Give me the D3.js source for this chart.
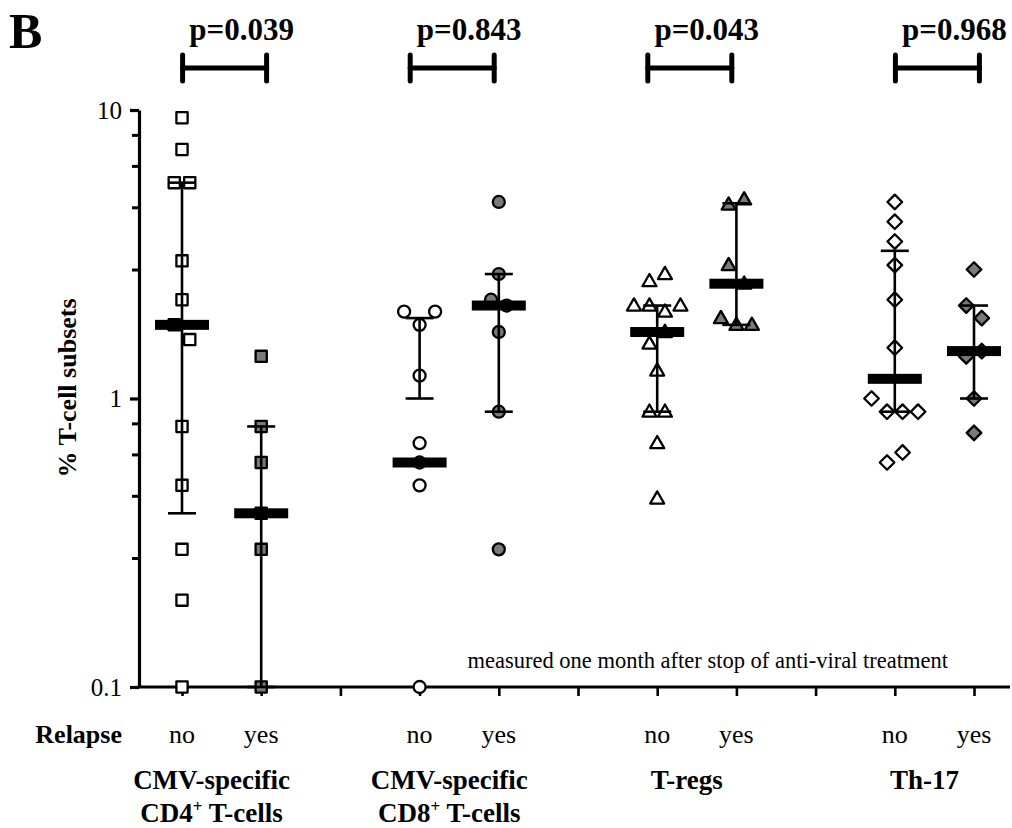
<!DOCTYPE html>
<html>
<head>
<meta charset="utf-8">
<script src="https://cdn.jsdelivr.net/npm/d3@7/dist/d3.min.js"></script>
<style>
  html, body { margin: 0; padding: 0; background: #fff; }
  svg { display: block; }
  text { font-family: "Liberation Serif", "Times New Roman", serif; fill: #000; }
</style>
</head>
<body>
<svg id="chart" width="1012" height="828"></svg>
<script>
// ---- data -------------------------------------------------------------
const subsetLine1 = ["CMV-specific", "CMV-specific", "T-regs", "Th-17"];
const subsetLine2 = [["CD4", "+", " T-cells"], ["CD8", "+", " T-cells"], null, null];
const relapseLabels = ["no", "yes"];
const pValues = ["p=0.039", "p=0.843", "p=0.043", "p=0.968"];

// individual measurements (% of T cells), one array per subset and relapse status
const cd4No    = [9.4, 7.3, 5.6, 5.6, 3.0, 2.2, 1.8, 1.6, 0.8, 0.5, 0.3, 0.2, 0.1];
const cd4Yes   = [1.4, 0.8, 0.6, 0.4, 0.3, 0.1];
const cd8No    = [2.0, 1.8, 2.0, 1.2, 0.7, 0.6, 0.5, 0.1];
const cd8Yes   = [4.8, 2.7, 2.2, 2.1, 1.7, 0.9, 0.3];
const tregNo   = [2.55, 2.7, 2.1, 2.1, 2.0, 2.1, 1.55, 1.7, 1.25, 0.9, 0.9, 0.7, 0.45];
const tregYes  = [4.7, 4.9, 2.9, 2.5, 1.9, 1.8, 1.8];
const th17No   = [4.8, 4.1, 3.5, 2.9, 2.2, 1.5, 1.0, 0.9, 0.9, 0.9, 0.6, 0.65];
const th17Yes  = [2.8, 2.1, 1.9, 1.4, 1.46, 1.0, 0.76];

// summary per column: median and interquartile range
const medians = [1.8, 0.4, 0.6, 2.1, 1.7, 2.5, 1.17, 1.46];
const lowerQ  = [0.4, 0.1, 1.0, 0.9, 0.9, 1.8, 0.9, 1.0];
const upperQ  = [5.6, 0.8, 1.9, 2.7, 2.1, 4.75, 3.25, 2.1];

const yMajorTicks = [0.1, 1, 10];
const yTickLabels = ["0.1", "1", "10"];

// ---- layout -------------------------------------------------------------
const columns = [cd4No, cd4Yes, cd8No, cd8Yes, tregNo, tregYes, th17No, th17Yes];
const shapes = ["square", "square", "circle", "circle", "triangle", "triangle", "diamond", "diamond"];

const svg = d3.select("#chart");
const x = d3.scaleLinear().domain([0, 10]).range([182, 974]);
const y = d3.scaleLog().domain([0.1, 10]).range([687, 110]);
const axisX = 139;
const colPos = i => Math.floor(i / 2) * 3 + (i % 2);

// ---- axes -------------------------------------------------------------
// minor ticks split each decade into five equal linear steps
const yMinor = [];
[0.1, 1].forEach(base => { for (let k = 1; k < 5; k++) yMinor.push(base + base * 1.8 * k); });

const yAxisG = svg.append("g").attr("transform", `translate(${axisX},0)`);
yAxisG.call(d3.axisLeft(y).tickValues(yMajorTicks).tickSize(9).tickSizeOuter(0)
  .tickFormat((d, i) => yTickLabels[i]));
yAxisG.select(".domain").attr("stroke-width", 3.2);
yAxisG.selectAll(".tick line").attr("stroke-width", 3.2);
yAxisG.selectAll(".tick text").attr("font-size", 25).attr("x", -17)
  .style("font-family", "'Liberation Serif', serif");

const yMinorG = svg.append("g").attr("transform", `translate(${axisX},0)`);
yMinorG.call(d3.axisLeft(y).tickValues(yMinor).tickSize(7).tickSizeOuter(0).tickFormat(""));
yMinorG.select(".domain").remove();
yMinorG.selectAll(".tick line").attr("stroke-width", 3);

svg.append("line").attr("x1", axisX - 1.5).attr("x2", 1010)
  .attr("y1", y(0.1)).attr("y2", y(0.1)).attr("stroke", "#000").attr("stroke-width", 3.2);
const xAxisG = svg.append("g").attr("transform", `translate(0,${y(0.1)})`);
xAxisG.call(d3.axisBottom(x).tickValues(d3.range(0, 11)).tickSize(9).tickSizeOuter(0).tickFormat(""));
xAxisG.select(".domain").remove();
xAxisG.selectAll(".tick line").attr("stroke-width", 2.6);

// ---- points -----------------------------------------------------------
// spread overlapping points sideways: rows of nearby values are centred on the column
function dodge(values) {
  const order = values.map((v, i) => i).sort((a, b) => y(values[a]) - y(values[b]) || a - b);
  const offsets = new Array(values.length).fill(0);
  let row = [];
  const flush = () => {
    row.sort((a, b) => a - b);
    row.forEach((idx, k) => { offsets[idx] = (k - (row.length - 1) / 2) * 15.5; });
    row = [];
  };
  let rowTop = null;
  order.forEach(idx => {
    const py = y(values[idx]);
    if (rowTop === null || py - rowTop >= 19) { if (row.length) flush(); rowTop = py; }
    row.push(idx);
  });
  if (row.length) flush();
  return offsets;
}

function symbolPath(shape) {
  switch (shape) {
    case "square": return "M-5.6,-5.6H5.6V5.6H-5.6Z";
    case "circle": return "M6,0A6,6 0 1,1 -6,0A6,6 0 1,1 6,0Z";
    case "triangle": return "M0,-7.2L7,5L-7,5Z";
    default: return "M0,-7.3L7.3,0L0,7.3L-7.3,0Z";
  }
}

const pointsG = svg.append("g");
columns.forEach((vals, i) => {
  const offs = dodge(vals);
  pointsG.selectAll(null).data(vals).enter().append("path")
    .attr("d", symbolPath(shapes[i]))
    .attr("transform", (d, j) => `translate(${x(colPos(i)) + offs[j]},${y(d)})`)
    .attr("fill", i % 2 ? "#7a7a7a" : "#fff")
    .attr("stroke", "#000").attr("stroke-width", 2.3)
    .attr("stroke-linejoin", "round");
});

// ---- median and interquartile bars --------------------------------------
const statsG = svg.append("g");
columns.forEach((vals, i) => {
  const cx = x(colPos(i));
  statsG.append("line").attr("x1", cx).attr("x2", cx)
    .attr("y1", y(lowerQ[i])).attr("y2", y(upperQ[i]))
    .attr("stroke", "#000").attr("stroke-width", 2.6);
  [lowerQ[i], upperQ[i]].forEach(v => {
    statsG.append("line").attr("x1", cx - 14).attr("x2", cx + 14)
      .attr("y1", y(v)).attr("y2", y(v)).attr("stroke", "#000").attr("stroke-width", 2.6);
  });
  statsG.append("rect").attr("x", cx - 27).attr("width", 54)
    .attr("y", y(medians[i]) - 5).attr("height", 10).attr("fill", "#000");
});

// ---- significance brackets ----------------------------------------------
const bracketShift = [3, -7, -7, 3];
subsetLine1.forEach((_, g) => {
  const mid = (x(g * 3) + x(g * 3 + 1)) / 2 + bracketShift[g];
  const x0 = mid - 42, x1 = mid + 42;
  const br = svg.append("g").attr("stroke", "#000").attr("stroke-width", 5)
    .attr("stroke-linecap", "round");
  br.append("line").attr("x1", x0).attr("x2", x1).attr("y1", 68).attr("y2", 68);
  br.append("line").attr("x1", x0).attr("x2", x0).attr("y1", 55).attr("y2", 81);
  br.append("line").attr("x1", x1).attr("x2", x1).attr("y1", 55).attr("y2", 81);
  svg.append("text").attr("x", mid + 17).attr("y", 40).attr("text-anchor", "middle")
    .attr("font-size", 31).attr("font-weight", "bold").text(pValues[g]);
});

// ---- labels -------------------------------------------------------------
svg.append("text").attr("x", 9).attr("y", 48).attr("font-size", 50)
  .attr("font-weight", "bold").text("B");

svg.append("text").attr("transform", "translate(76,388) rotate(-90)")
  .attr("text-anchor", "middle").attr("font-size", 26).attr("font-weight", "bold")
  .text("% T-cell subsets");

svg.append("text").attr("x", 122).attr("y", 743).attr("text-anchor", "end")
  .attr("font-size", 26).attr("font-weight", "bold").text("Relapse");

columns.forEach((_, i) => {
  svg.append("text").attr("x", x(colPos(i))).attr("y", 743).attr("text-anchor", "middle")
    .attr("font-size", 26).text(relapseLabels[i % 2]);
});

subsetLine1.forEach((label, g) => {
  const mid = (x(g * 3) + x(g * 3 + 1)) / 2 - 10;
  svg.append("text").attr("x", mid).attr("y", 789).attr("text-anchor", "middle")
    .attr("font-size", 27).attr("font-weight", "bold").text(label);
  const l2 = subsetLine2[g];
  if (l2) {
    const t = svg.append("text").attr("x", mid).attr("y", 822).attr("text-anchor", "middle")
      .attr("font-size", 27).attr("font-weight", "bold");
    t.append("tspan").text(l2[0]);
    t.append("tspan").attr("dy", -10).attr("font-size", 17).text(l2[1]);
    t.append("tspan").attr("dy", 10).text(l2[2]);
  }
});

svg.append("text").attr("x", 948).attr("y", 668).attr("text-anchor", "end")
  .attr("font-size", 22.5).text("measured one month after stop of anti-viral treatment");
</script>
</body>
</html>
